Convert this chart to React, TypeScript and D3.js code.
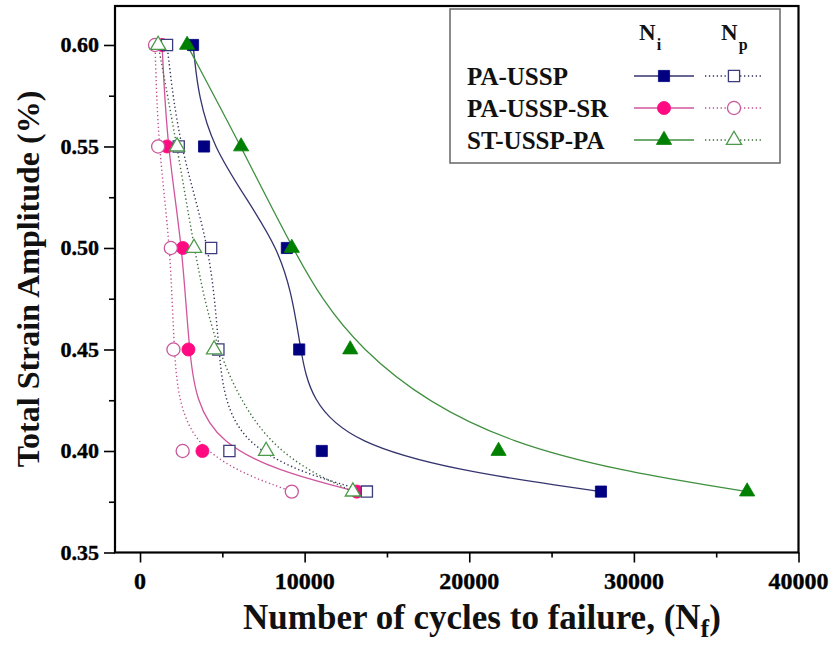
import React, { useEffect, useRef } from "react";
import * as d3 from "d3";

// strain amplitude levels (%) shared by all series
const strainLevels = [0.6, 0.55, 0.5, 0.45, 0.4, 0.38];

// cycles
const paUsspNi = [3220, 3890, 8920, 9670, 11040, 28000];
const paUsspNp = [1640, 2350, 4320, 4760, 5430, 13780];
const paUsspSrNi = [1340, 1640, 2600, 2940, 3790, 13170];
const paUsspSrNp = [912, 1100, 1870, 2030, 2590, 9220];
const stUsspPaNi = [2860, 6140, 9220, 12770, 21780, 36880];
const stUsspPaNp = [1100, 2250, 3280, 4500, 7660, 12930];

const xTicks = [0, 10000, 20000, 30000, 40000];
const xMinorTicks = [5000, 15000, 25000, 35000];
const yTicks = [0.35, 0.4, 0.45, 0.5, 0.55, 0.6];
const yMinorTicks = [0.375, 0.425, 0.475, 0.525, 0.575];

const sampleNames = ["PA-USSP", "PA-USSP-SR", "ST-USSP-PA"];

const FONT = "'Liberation Serif', 'Times New Roman', serif";

type Shape = "square" | "circle" | "triangle";

interface Sample {
  name: string;
  ni: number[];
  np: number[];
  shape: Shape;
  fill: string;
  line: string;
  openStroke: string;
  dotLine: string;
}

const samples: Sample[] = [
  { name: sampleNames[0], ni: paUsspNi, np: paUsspNp, shape: "square", fill: "#000080", line: "#34346e", openStroke: "#3c3c7c", dotLine: "#30305a" },
  { name: sampleNames[1], ni: paUsspSrNi, np: paUsspSrNp, shape: "circle", fill: "#ff0a80", line: "#d0569c", openStroke: "#c8569a", dotLine: "#c0508e" },
  { name: sampleNames[2], ni: stUsspPaNi, np: stUsspPaNp, shape: "triangle", fill: "#008000", line: "#3f8f3f", openStroke: "#4a9a4a", dotLine: "#3c6a3c" },
];

const symbolFor = (shape: Shape) => {
  if (shape === "square") return d3.symbol(d3.symbolSquare, 125)();
  if (shape === "circle") return d3.symbol(d3.symbolCircle, 135)();
  return d3.symbol(d3.symbolTriangle, 100)();
};

export default function App() {
  const svgRef = useRef<SVGSVGElement>(null);

  useEffect(() => {
    const svg = d3.select(svgRef.current);
    svg.selectAll("*").remove();

    const x = d3.scaleLinear().domain([-1520, 40000]).range([115, 798.5]);
    const y = d3.scaleLinear().domain([0.35, 0.6192]).range([552.5, 6]);

    const line = d3
      .line<[number, number]>()
      .x((d) => x(d[0]))
      .y((d) => y(d[1]))
      .curve(d3.curveBasis);

    const pairs = (vals: number[]) => vals.map((v, i) => [v, strainLevels[i]] as [number, number]);

    const plot = svg.append("g");

    // curves
    samples.forEach((s) => {
      plot.append("path").attr("d", line(pairs(s.np))).attr("fill", "none")
        .attr("stroke", s.dotLine).attr("stroke-width", 1.4).attr("stroke-dasharray", "1.3,2.6");
      plot.append("path").attr("d", line(pairs(s.ni))).attr("fill", "none")
        .attr("stroke", s.line).attr("stroke-width", 1.3);
    });

    // markers
    const drawMarkers = (s: Sample, vals: number[], open: boolean) => {
      plot.append("g").selectAll("path").data(pairs(vals)).enter().append("path")
        .attr("d", symbolFor(s.shape))
        .attr("transform", (d) => `translate(${x(d[0])},${y(d[1])})`)
        .attr("fill", open ? "#fff" : s.fill)
        .attr("stroke", open ? s.openStroke : s.fill)
        .attr("stroke-width", open ? 1.3 : 0.8);
    };
    drawMarkers(samples[1], samples[1].ni, false);
    drawMarkers(samples[1], samples[1].np, true);
    drawMarkers(samples[0], samples[0].np, true);
    drawMarkers(samples[2], samples[2].np, true);
    drawMarkers(samples[0], samples[0].ni, false);
    drawMarkers(samples[2], samples[2].ni, false);

    // axes: ticks only, the frame is drawn as a rect below
    const tickLines = (g: any) => {
      g.select(".domain").remove();
      g.selectAll("line").attr("stroke-width", 1.6);
      g.selectAll("text").remove();
    };

    const xAxis = svg.append("g").attr("transform", `translate(0,${y(0.35)})`)
      .call(d3.axisBottom(x).tickValues(xTicks).tickSize(10).tickSizeOuter(0));
    tickLines(xAxis);
    const xMinor = svg.append("g").attr("transform", `translate(0,${y(0.35)})`)
      .call(d3.axisBottom(x).tickValues(xMinorTicks).tickSize(5).tickSizeOuter(0));
    tickLines(xMinor);
    const yAxis = svg.append("g").attr("transform", `translate(${x(-1520)},0)`)
      .call(d3.axisLeft(y).tickValues(yTicks).tickSize(11).tickSizeOuter(0));
    tickLines(yAxis);
    const yMinor = svg.append("g").attr("transform", `translate(${x(-1520)},0)`)
      .call(d3.axisLeft(y).tickValues(yMinorTicks).tickSize(6).tickSizeOuter(0));
    tickLines(yMinor);

    // tick labels as plain text
    const fmtX = d3.format("d");
    svg.append("g").selectAll("text").data(xTicks).enter().append("text")
      .attr("x", (d) => x(d)).attr("y", y(0.35) + 36)
      .attr("text-anchor", "middle")
      .attr("font-family", FONT).attr("font-weight", "bold").attr("font-size", 24)
      .attr("fill", "#000").attr("stroke", "#000").attr("stroke-width", 0.4)
      .text((d) => fmtX(d));

    const fmtY = d3.format(".2f");
    svg.append("g").selectAll("text").data(yTicks).enter().append("text")
      .attr("x", x(-1520) - 16).attr("y", (d) => y(d) + 7.5)
      .attr("text-anchor", "end")
      .attr("font-family", FONT).attr("font-weight", "bold").attr("font-size", 22)
      .attr("fill", "#000").attr("stroke", "#000").attr("stroke-width", 0.4)
      .text((d) => fmtY(d));

    // frame
    const [x0, x1] = x.range();
    const [y0, y1] = y.range();
    svg.append("rect").attr("x", x0).attr("y", y1).attr("width", x1 - x0).attr("height", y0 - y1)
      .attr("fill", "none").attr("stroke", "#000").attr("stroke-width", 2.2);

    // legend
    const lg = svg.append("g");
    lg.append("rect").attr("x", 450).attr("y", 9).attr("width", 330).attr("height", 154)
      .attr("fill", "#fff").attr("stroke", "#666").attr("stroke-width", 1.5);

    const head = (cx: number, sub: string) => {
      const t = lg.append("text").attr("x", cx).attr("y", 40).attr("font-family", FONT)
        .attr("font-weight", "bold").attr("font-size", 23).attr("fill", "#111");
      t.append("tspan").text("N");
      t.append("tspan").attr("dy", 10).attr("dx", 1).attr("font-size", 16).text(sub);
    };
    head(639, "i");
    head(721, "p");

    samples.forEach((s, i) => {
      const ry = 76 + i * 32;
      lg.append("text").attr("x", 467).attr("y", ry + 9).attr("font-family", FONT)
        .attr("font-weight", "bold").attr("font-size", 25).attr("fill", "#111").text(s.name);
      lg.append("line").attr("x1", 634).attr("x2", 694).attr("y1", ry).attr("y2", ry)
        .attr("stroke", s.line).attr("stroke-width", 1.3);
      lg.append("path").attr("d", symbolFor(s.shape)).attr("transform", `translate(664,${ry})`)
        .attr("fill", s.fill).attr("stroke", s.fill).attr("stroke-width", 0.8);
      lg.append("line").attr("x1", 705).attr("x2", 763).attr("y1", ry).attr("y2", ry)
        .attr("stroke", s.dotLine).attr("stroke-width", 1.3).attr("stroke-dasharray", "1.3,2.6");
      lg.append("path").attr("d", symbolFor(s.shape)).attr("transform", `translate(734,${ry})`)
        .attr("fill", "#fff").attr("stroke", s.openStroke).attr("stroke-width", 1.3);
    });

    // axis titles
    const xt = svg.append("text").attr("x", 482).attr("y", 629).attr("text-anchor", "middle")
      .attr("font-family", FONT).attr("font-weight", "bold").attr("font-size", 35).attr("fill", "#111");
    xt.append("tspan").text("Number of cycles to failure, (N");
    xt.append("tspan").attr("dy", 8).attr("font-size", 26).text("f");
    xt.append("tspan").attr("dy", -8).text(")");

    svg.append("text").attr("transform", "translate(39,279) rotate(-90)").attr("text-anchor", "middle")
      .attr("font-family", FONT).attr("font-weight", "bold").attr("font-size", 32).attr("fill", "#111")
      .text("Total Strain Amplitude (%)");
  }, []);

  return (
    <svg
      ref={svgRef}
      width={831}
      height={651}
      style={{ position: "absolute", left: 0, top: 0, background: "#fff" }}
    />
  );
}
